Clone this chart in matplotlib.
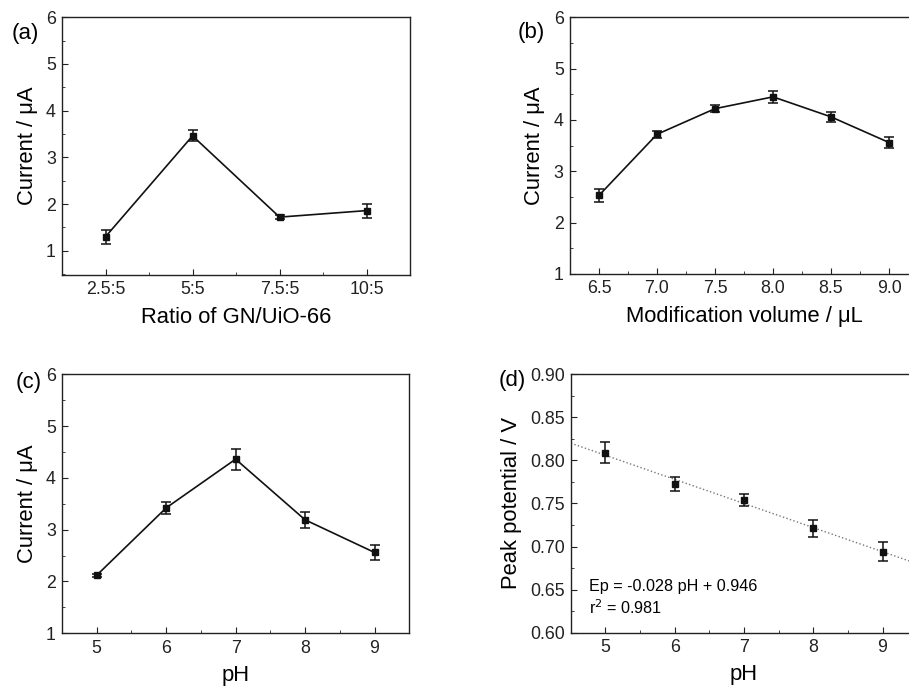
import numpy as np
import matplotlib
matplotlib.use("Agg")
import matplotlib.pyplot as plt
from matplotlib.ticker import MultipleLocator, FormatStrFormatter

plt.rcParams['font.family'] = ['Liberation Sans', 'DejaVu Sans']

# (a) ratio of GN/UiO-66
ratio_labels = ['2.5:5', '5:5', '7.5:5', '10:5']
ratio_current = [1.30, 3.46, 1.72, 1.86]
ratio_err = [0.15, 0.12, 0.04, 0.15]

# (b) modification volume
volume = [6.5, 7.0, 7.5, 8.0, 8.5, 9.0]
volume_current = [2.53, 3.72, 4.22, 4.45, 4.06, 3.56]
volume_err = [0.12, 0.07, 0.07, 0.11, 0.10, 0.10]

# (c) pH vs current
ph = [5, 6, 7, 8, 9]
ph_current = [2.12, 3.42, 4.36, 3.19, 2.56]
ph_err = [0.03, 0.12, 0.20, 0.15, 0.15]

# (d) pH vs peak potential
ph_potential = [0.809, 0.773, 0.754, 0.721, 0.694]
ph_potential_err = [0.012, 0.008, 0.007, 0.010, 0.011]
fit_slope = -0.028
fit_intercept = 0.946

fig = plt.figure(figsize=(9.09, 6.91), dpi=100)
ax_a = fig.add_axes([0.0682, 0.602, 0.383, 0.373])
ax_b = fig.add_axes([0.627, 0.6035, 0.383, 0.3715])
ax_c = fig.add_axes([0.0682, 0.0835, 0.382, 0.375])
ax_d = fig.add_axes([0.628, 0.0844, 0.381, 0.3739])

TICK_FS = 12.8
LABEL_FS = 15.8


def style(ax):
    for s in ax.spines.values():
        s.set_linewidth(1.0)
        s.set_color('#222222')
    ax.tick_params(which='both', direction='in', top=False, right=False,
                   labelsize=TICK_FS, colors='#222222', pad=4.5)
    ax.tick_params(which='major', length=4)
    ax.tick_params(which='minor', length=2.5)
    ax.xaxis.labelpad = 6
    ax.yaxis.labelpad = 6


def draw(ax, x, y, e):
    ax.errorbar(x, y, yerr=e, color='#111111', lw=1.2, marker='s', ms=4.5,
                capsize=3.5, elinewidth=1.1, capthick=1.1)


# (a)
xa = np.arange(1, len(ratio_labels) + 1)
draw(ax_a, xa, ratio_current, ratio_err)
ax_a.set_xlim(0.5, 4.5)
ax_a.set_ylim(0.48, 6)
ax_a.set_xticks(xa)
ax_a.set_xticklabels(ratio_labels)
ax_a.set_xticks(np.arange(0.5, 4.6, 1), minor=True)
ax_a.set_yticks([1, 2, 3, 4, 5, 6])
ax_a.yaxis.set_minor_locator(MultipleLocator(0.5))
ax_a.set_xlabel('Ratio of GN/UiO-66', fontsize=LABEL_FS)
ax_a.set_ylabel('Current / μA', fontsize=LABEL_FS)
style(ax_a)

# (b)
draw(ax_b, volume, volume_current, volume_err)
ax_b.set_xlim(6.25, 9.25)
ax_b.set_ylim(1, 6)
ax_b.set_xticks(volume)
ax_b.set_xticklabels(['%.1f' % v for v in volume])
ax_b.xaxis.set_minor_locator(MultipleLocator(0.25))
ax_b.yaxis.set_major_locator(MultipleLocator(1))
ax_b.yaxis.set_minor_locator(MultipleLocator(0.5))
ax_b.set_xlabel('Modification volume / μL', fontsize=LABEL_FS)
ax_b.set_ylabel('Current / μA', fontsize=LABEL_FS)
style(ax_b)

# (c)
draw(ax_c, ph, ph_current, ph_err)
ax_c.set_xlim(4.5, 9.5)
ax_c.set_ylim(1, 6)
ax_c.set_xticks(ph)
ax_c.xaxis.set_minor_locator(MultipleLocator(0.5))
ax_c.yaxis.set_major_locator(MultipleLocator(1))
ax_c.yaxis.set_minor_locator(MultipleLocator(0.5))
ax_c.set_xlabel('pH', fontsize=LABEL_FS)
ax_c.set_ylabel('Current / μA', fontsize=LABEL_FS)
style(ax_c)

# (d)
fit_x = np.array([4.5, 9.5])
ax_d.plot(fit_x, fit_slope * fit_x + fit_intercept, ls=':', color='#777777', lw=1.0)
ax_d.errorbar(ph, ph_potential, yerr=ph_potential_err, color='#111111', ls='none',
              marker='s', ms=4.5, capsize=3.5, elinewidth=1.1, capthick=1.1)
ax_d.set_xlim(4.5, 9.5)
ax_d.set_ylim(0.60, 0.90)
ax_d.set_xticks(ph)
ax_d.xaxis.set_minor_locator(MultipleLocator(0.5))
ax_d.yaxis.set_major_locator(MultipleLocator(0.05))
ax_d.yaxis.set_minor_locator(MultipleLocator(0.025))
ax_d.yaxis.set_major_formatter(FormatStrFormatter('%.2f'))
ax_d.set_xlabel('pH', fontsize=LABEL_FS)
ax_d.set_ylabel('Peak potential / V', fontsize=LABEL_FS)
ax_d.text(4.76, 0.654, 'Ep = -0.028 pH + 0.946', fontsize=11.6, va='center')
ax_d.text(4.76, 0.629, 'r$^2$ = 0.981', fontsize=11.6, va='center')
style(ax_d)

# panel letters
fig.text(0.013, 0.952, '(a)', fontsize=16, va='center')
fig.text(0.569, 0.953, '(b)', fontsize=16, va='center')
fig.text(0.017, 0.447, '(c)', fontsize=16, va='center')
fig.text(0.549, 0.449, '(d)', fontsize=16, va='center')

fig.savefig('out.png', dpi=100)
